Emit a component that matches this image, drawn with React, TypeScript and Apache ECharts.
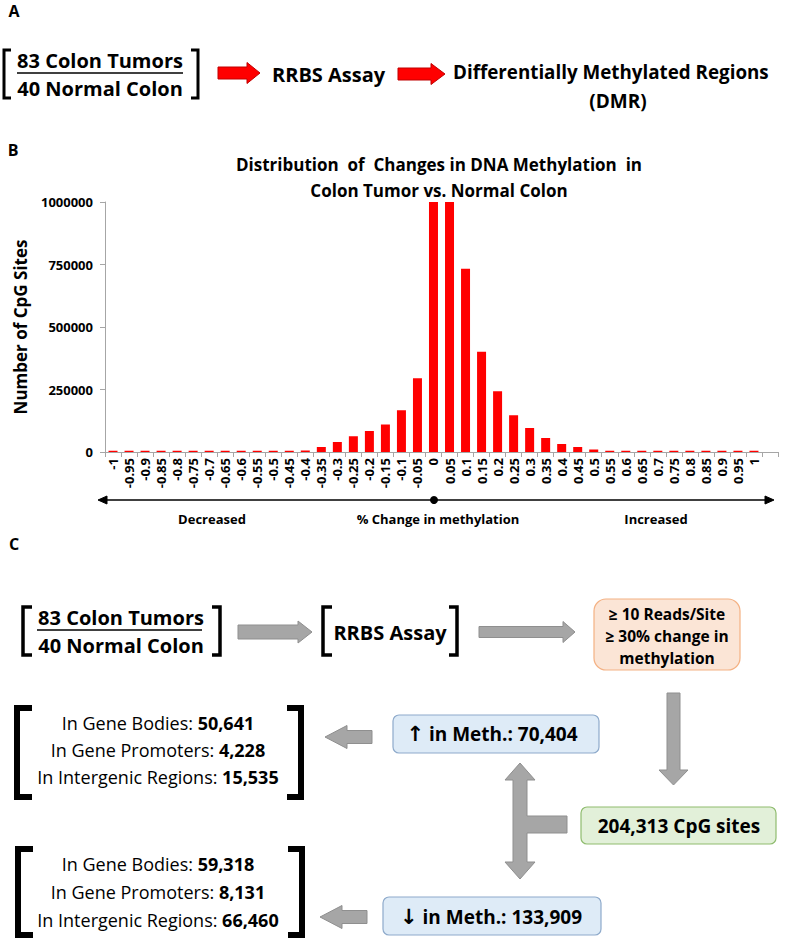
import React, { useEffect, useRef } from "react";
import * as echarts from "echarts";

// ---------- data ----------
const xLabels = [
  "-1", "-0.95", "-0.9", "-0.85", "-0.8", "-0.75", "-0.7", "-0.65", "-0.6", "-0.55",
  "-0.5", "-0.45", "-0.4", "-0.35", "-0.3", "-0.25", "-0.2", "-0.15", "-0.1", "-0.05",
  "0", "0.05", "0.1", "0.15", "0.2", "0.25", "0.3", "0.35", "0.4", "0.45",
  "0.5", "0.55", "0.6", "0.65", "0.7", "0.75", "0.8", "0.85", "0.9", "0.95",
  "1", "",
];
const cpgCounts: (number | null)[] = [
  5000, 5000, 5000, 5000, 5000, 5000, 5000, 5000, 5000, 5000,
  5000, 5000, 6000, 20000, 40000, 63000, 84000, 110000, 167000, 295000,
  1000000, 1000000, 733000, 401000, 243000, 147000, 96000, 56000, 32000, 20000,
  10000, 5000, 5000, 5000, 5000, 5000, 5000, 5000, 5000, 5000,
  5000, null,
];
const yMax = 1000000;
const yInterval = 250000;

const titleLines = [
  "Distribution  of  Changes in DNA Methylation  in",
  "Colon Tumor vs. Normal Colon",
];
const filterLines = ["\u2265 10 Reads/Site", "\u2265 30% change in", "methylation"];
const upRegions = [
  ["In Gene Bodies: ", "50,641"],
  ["In Gene Promoters: ", "4,228"],
  ["In Intergenic Regions: ", "15,535"],
];
const downRegions = [
  ["In Gene Bodies: ", "59,318"],
  ["In Gene Promoters: ", "8,131"],
  ["In Intergenic Regions: ", "66,460"],
];
const upTotal = ["\u2191", " in Meth.: 70,404"];
const downTotal = ["\u2193", " in Meth.: 133,909"];
const cpgTotal = "204,313 CpG sites";

// ---------- helpers ----------
const FONT = "'Open Sans', sans-serif";
const GRAY_FILL = "#a6a6a6";
const GRAY_STROKE = "#8f8f8f";

const txt = (
  x: number,
  y: number,
  text: string,
  size: number,
  weight: string = "bold",
  align: string = "center",
  extra: any = {}
) => ({
  type: "text",
  x,
  y,
  silent: true,
  style: {
    text,
    fontSize: size,
    fontWeight: weight,
    fontFamily: FONT,
    fill: "#000",
    align,
    textAlign: align,
    verticalAlign: "middle",
    textVerticalAlign: "middle",
    ...extra,
  },
});

const hArrowPts = (tail: number, tip: number, cy: number, s: number, H: number, hl: number) => {
  const d = Math.sign(tip - tail);
  const b = tip - d * hl;
  return [
    [tail, cy - s / 2], [b, cy - s / 2], [b, cy - H / 2], [tip, cy],
    [b, cy + H / 2], [b, cy + s / 2], [tail, cy + s / 2],
  ];
};
const vArrowPts = (tail: number, tip: number, cx: number, s: number, H: number, hl: number) => {
  const d = Math.sign(tip - tail);
  const b = tip - d * hl;
  return [
    [cx - s / 2, tail], [cx - s / 2, b], [cx - H / 2, b], [cx, tip],
    [cx + H / 2, b], [cx + s / 2, b], [cx + s / 2, tail],
  ];
};
const poly = (points: number[][], fill: string, stroke: string) => ({
  type: "polygon",
  silent: true,
  shape: { points },
  style: { fill, stroke, lineWidth: 1 },
});
const bracket = (x0: number, x1: number, y0: number, y1: number, lw: number) => ({
  type: "polyline",
  silent: true,
  shape: { points: [[x1, y0], [x0, y0], [x0, y1], [x1, y1]] },
  style: { stroke: "#000", lineWidth: lw, fill: null, lineJoin: "miter" },
});
const box = (x: number, y: number, w: number, h: number, r: number, fill: string, stroke: string) => ({
  type: "rect",
  silent: true,
  shape: { x, y, width: w, height: h, r },
  style: { fill, stroke, lineWidth: 1.2 },
});
const richLine = (x: number, y: number, parts: string[]) => ({
  type: "text",
  x,
  y,
  silent: true,
  style: {
    text: `{n|${parts[0]}}{b|${parts[1]}}`,
    align: "center",
    textAlign: "center",
    verticalAlign: "middle",
    textVerticalAlign: "middle",
    rich: {
      n: { fontSize: 18, fontWeight: "normal", fontFamily: FONT, fill: "#000" },
      b: { fontSize: 18, fontWeight: "bold", fontFamily: FONT, fill: "#000" },
    },
  },
});
const arrowLine = (x: number, y: number, parts: string[]) => ({
  type: "text",
  x,
  y,
  silent: true,
  style: {
    text: `{a|${parts[0]}}{b|${parts[1]}}`,
    align: "center",
    textAlign: "center",
    verticalAlign: "middle",
    textVerticalAlign: "middle",
    rich: {
      a: { fontSize: 21, fontWeight: "bold", fontFamily: "'DejaVu Sans', sans-serif", fill: "#000" },
      b: { fontSize: 19, fontWeight: "bold", fontFamily: FONT, fill: "#000" },
    },
  },
});

function buildGraphics() {
  const g: any[] = [];
  // ---- Panel A ----
  g.push(txt(14, 11, "A", 16));
  g.push(bracket(4, 11, 50, 98, 3));
  g.push(bracket(198, 191, 50, 98, 3));
  g.push(txt(100, 60, "83 Colon Tumors", 20));
  g.push({ type: "line", silent: true, shape: { x1: 17, y1: 73, x2: 183, y2: 73 }, style: { stroke: "#000", lineWidth: 1.5 } });
  g.push(txt(100, 88, "40 Normal Colon", 20));
  g.push(poly(hArrowPts(218, 260, 73, 12, 21, 13), "#ff0000", "#c00000"));
  g.push(txt(272, 74, "RRBS Assay", 20, "bold", "left"));
  g.push(poly(hArrowPts(398, 445, 74, 12, 21, 14), "#ff0000", "#c00000"));
  g.push(txt(453, 72, "Differentially Methylated Regions", 18.8, "bold", "left"));
  g.push(txt(618, 101, "(DMR)", 19));

  // ---- Panel B ----
  g.push(txt(13, 150, "B", 16));
  g.push(txt(439, 164, titleLines[0], 17));
  g.push(txt(439, 190, titleLines[1], 17));
  g.push({ type: "line", silent: true, shape: { x1: 104, y1: 500, x2: 768, y2: 500 }, style: { stroke: "#000", lineWidth: 1.5 } });
  g.push(poly([[98, 500], [107, 496], [107, 504]], "#000", "#000"));
  g.push(poly([[774, 500], [765, 496], [765, 504]], "#000", "#000"));
  g.push({ type: "circle", silent: true, shape: { cx: 434, cy: 500, r: 4 }, style: { fill: "#000" } });
  g.push(txt(212, 519, "Decreased", 13));
  g.push(txt(438, 519, "% Change in methylation", 13));
  g.push(txt(656, 519, "Increased", 13));

  // ---- Panel C ----
  g.push(txt(14, 544, "C", 16));
  g.push(bracket(23, 32, 607, 655, 3.5));
  g.push(bracket(220, 212, 607, 655, 3.5));
  g.push(txt(121, 617, "83 Colon Tumors", 20));
  g.push({ type: "line", silent: true, shape: { x1: 37, y1: 630, x2: 202, y2: 630 }, style: { stroke: "#000", lineWidth: 1.5 } });
  g.push(txt(121, 645, "40 Normal Colon", 20));
  g.push(poly(hArrowPts(238, 312, 632, 14, 22, 14), GRAY_FILL, GRAY_STROKE));
  g.push(bracket(323, 332, 607, 655, 3.5));
  g.push(bracket(457, 449, 607, 655, 3.5));
  g.push(txt(390, 632, "RRBS Assay", 20));
  g.push(poly(hArrowPts(479, 575, 632, 11, 21, 12), GRAY_FILL, GRAY_STROKE));
  g.push(box(594, 599, 146, 71, 12, "#fbe5d6", "#f4b183"));
  filterLines.forEach((t, i) => g.push(txt(667, 614 + i * 22, t, 15.5)));
  g.push(poly(vArrowPts(693, 785, 673.5, 13, 29, 15), GRAY_FILL, GRAY_STROKE));

  // up-methylation branch
  g.push(box(393, 715, 206, 38, 6, "#deebf7", "#8eaacb"));
  g.push(arrowLine(492, 734, upTotal));
  g.push(poly(hArrowPts(372, 325, 737, 13, 23, 22), GRAY_FILL, GRAY_STROKE));
  g.push(bracket(17, 32, 708, 797, 6));
  g.push(bracket(301, 287, 708, 797, 6));
  upRegions.forEach((p, i) => g.push(richLine(158, 723 + i * 27, p)));

  // double arrow with branch
  const cx = 520, s = 14, H = 30;
  g.push(poly([
    [cx, 763], [cx + H / 2, 780], [cx + s / 2, 780], [cx + s / 2, 816], [567, 816], [567, 833],
    [cx + s / 2, 833], [cx + s / 2, 862], [cx + H / 2, 862], [cx, 879], [cx - H / 2, 862],
    [cx - s / 2, 862], [cx - s / 2, 780], [cx - H / 2, 780],
  ], GRAY_FILL, GRAY_STROKE));
  g.push(box(581, 807, 195, 37, 6, "#e2f0d9", "#8fbc6f"));
  g.push(txt(679, 826, cpgTotal, 19));

  // down-methylation branch
  g.push(box(383, 897, 218, 38, 6, "#deebf7", "#8eaacb"));
  g.push(arrowLine(491, 917, downTotal));
  g.push(poly(hArrowPts(367, 320, 917, 13, 23, 22), GRAY_FILL, GRAY_STROKE));
  g.push(bracket(18, 33, 849, 935, 6));
  g.push(bracket(302, 288, 849, 935, 6));
  downRegions.forEach((p, i) => g.push(richLine(158, 864 + i * 28, p)));
  return g;
}

export default function App() {
  const ref = useRef<HTMLDivElement>(null);
  useEffect(() => {
    if (!ref.current) return;
    const chart = echarts.init(ref.current, undefined, { renderer: "svg" });
    chart.setOption({
      animation: false,
      backgroundColor: "#ffffff",
      textStyle: { fontFamily: FONT },
      grid: { left: 105, top: 202, width: 673, height: 250, containLabel: false },
      xAxis: {
        type: "category",
        data: xLabels,
        boundaryGap: true,
        axisLine: { lineStyle: { color: "#a6a6a6", width: 1 } },
        axisTick: { show: true, interval: 0, length: 5, lineStyle: { color: "#a6a6a6" } },
        axisLabel: {
          interval: 0,
          rotate: 90,
          margin: 6,
          color: "#000",
          fontSize: 13,
          fontWeight: "bold",
          fontFamily: FONT,
        },
        splitLine: { show: false },
      },
      yAxis: {
        type: "value",
        min: 0,
        max: yMax,
        interval: yInterval,
        name: "Number of CpG Sites",
        nameLocation: "middle",
        nameRotate: 90,
        nameGap: 76,
        nameTextStyle: { color: "#000", fontSize: 17, fontWeight: "bold", fontFamily: FONT },
        axisLine: { show: true, lineStyle: { color: "#a6a6a6", width: 1 } },
        axisTick: { show: true, length: 5, lineStyle: { color: "#a6a6a6" } },
        axisLabel: {
          margin: 12,
          color: "#000",
          fontSize: 13,
          fontWeight: "bold",
          fontFamily: FONT,
          formatter: (v: number) => String(v),
        },
        splitLine: { show: false },
      },
      series: [
        {
          type: "bar",
          data: cpgCounts,
          barWidth: 9,
          itemStyle: { color: "#ff0000" },
          clip: true,
        },
      ],
      graphic: buildGraphics(),
    });
    return () => chart.dispose();
  }, []);
  return (
    <div
      ref={ref}
      style={{ position: "fixed", left: 0, top: 0, width: 787, height: 940, background: "#fff" }}
    />
  );
}
